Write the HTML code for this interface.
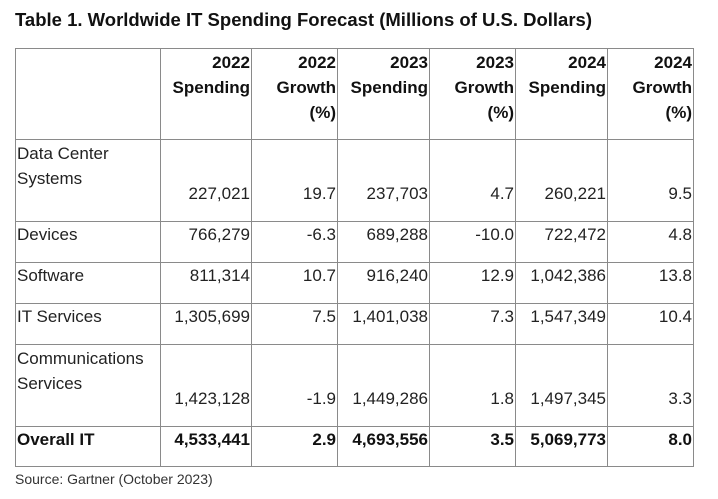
<!DOCTYPE html>
<html><head><meta charset="utf-8"><style>
body{margin:0;width:718px;height:499px;background:#fff;position:relative;overflow:hidden;font-family:"Liberation Sans",Arial,sans-serif;color:#222}
.title{position:absolute;left:15px;top:9px;font-size:18.5px;font-weight:bold;color:#111;white-space:nowrap}
table{position:absolute;left:15px;top:48px;border-collapse:collapse;table-layout:fixed;font-size:17px}
td{border:1.5px solid #8a8a8a;padding:0 1px;vertical-align:top;text-align:right;line-height:25px;white-space:nowrap;overflow:visible}
td.l{text-align:left;white-space:normal}
tr.h td{font-weight:bold;color:#111;padding-top:1px}
tr.tall td{padding-top:41px}
tr.tall td.l{padding-top:1px}
tr.r td{padding-top:0px}
tr.tot td{font-weight:bold;color:#111;padding-top:0px}
.src{position:absolute;left:15px;top:471px;font-size:14px;color:#333}
</style></head><body>
<div class="title">Table 1. Worldwide IT Spending Forecast (Millions of U.S. Dollars)</div>
<table>
<colgroup><col style="width:145px"><col style="width:91px"><col style="width:86px"><col style="width:92px"><col style="width:86px"><col style="width:92px"><col style="width:86px"></colgroup>
<tr class="h" style="height:91px"><td></td><td>2022<br>Spending</td><td>2022<br>Growth<br>(%)</td><td>2023<br>Spending</td><td>2023<br>Growth<br>(%)</td><td>2024<br>Spending</td><td>2024<br>Growth<br>(%)</td></tr>
<tr class="tall" style="height:82px"><td class="l">Data Center Systems</td><td>227,021</td><td>19.7</td><td>237,703</td><td>4.7</td><td>260,221</td><td>9.5</td></tr>
<tr class="r" style="height:41px"><td class="l">Devices</td><td>766,279</td><td>-6.3</td><td>689,288</td><td>-10.0</td><td>722,472</td><td>4.8</td></tr>
<tr class="r" style="height:41px"><td class="l">Software</td><td>811,314</td><td>10.7</td><td>916,240</td><td>12.9</td><td>1,042,386</td><td>13.8</td></tr>
<tr class="r" style="height:41px"><td class="l">IT Services</td><td>1,305,699</td><td>7.5</td><td>1,401,038</td><td>7.3</td><td>1,547,349</td><td>10.4</td></tr>
<tr class="tall" style="height:82px"><td class="l">Communications Services</td><td>1,423,128</td><td>-1.9</td><td>1,449,286</td><td>1.8</td><td>1,497,345</td><td>3.3</td></tr>
<tr class="tot" style="height:40px"><td class="l">Overall IT</td><td>4,533,441</td><td>2.9</td><td>4,693,556</td><td>3.5</td><td>5,069,773</td><td>8.0</td></tr>
</table>
<div class="src">Source: Gartner (October 2023)</div>
</body></html>
